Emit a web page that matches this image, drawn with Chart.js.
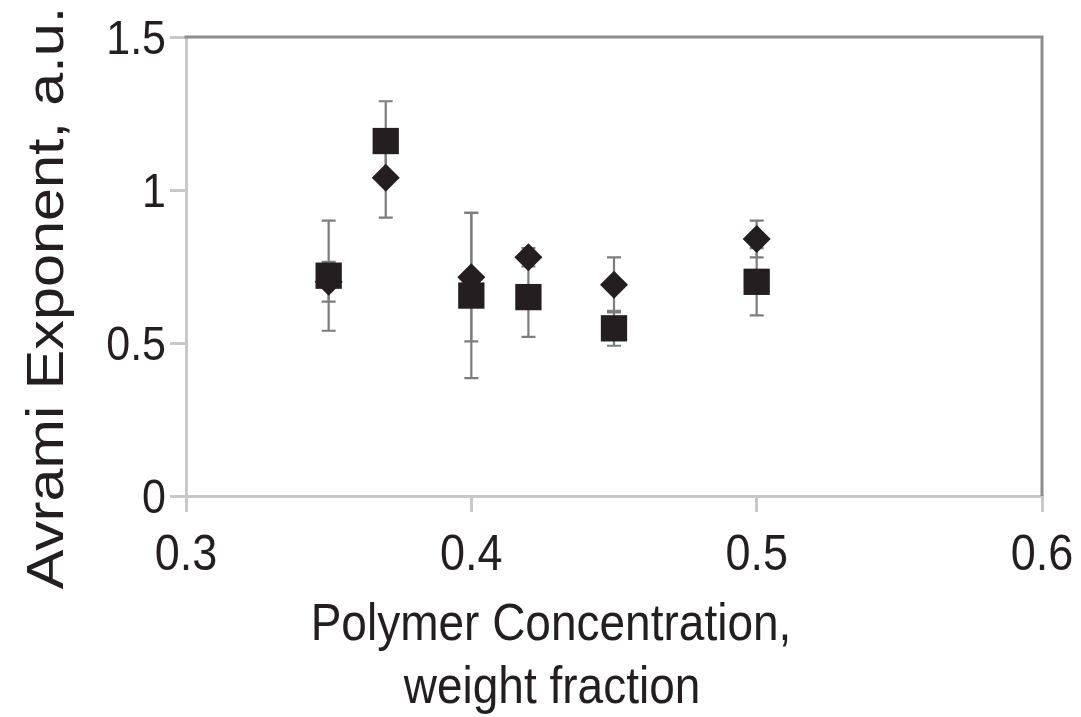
<!DOCTYPE html>
<html>
<head>
<meta charset="utf-8">
<script src="https://cdn.jsdelivr.net/npm/chart.js@4.4.1/dist/chart.umd.min.js"></script>
<style>
  html, body { margin: 0; padding: 0; background: #ffffff; }
  #wrap { width: 1081px; height: 717px; }
</style>
</head>
<body>
<div id="wrap"><canvas id="c" width="1081" height="717"></canvas></div>
<script>
// ---- Data ----
const concentrations = [0.35, 0.37, 0.40, 0.42, 0.45, 0.50];
const diamondValues  = [0.70, 1.04, 0.715, 0.78, 0.69, 0.84];
const diamondErrors  = [0.065, 0.13, 0.21, 0.03, 0.09, 0.06];
const squareValues   = [0.72, 1.16, 0.655, 0.65, 0.548, 0.70];
const squareErrors   = [0.18, 0.13, 0.27, 0.13, 0.057, 0.11];
const xTickValues = [0.3, 0.4, 0.5, 0.6];
const xTickLabels = ['0.3', '0.4', '0.5', '0.6'];
const yTickValues = [0, 0.5, 1, 1.5];
const yTickLabels = ['0', '0.5', '1', '1.5'];
const xTitleLines = ['Polymer Concentration,', 'weight fraction'];
const yTitle = 'Avrami Exponent, a.u.';

const FONT = '"Liberation Sans", Arial, sans-serif';
const MARK = '#231f20';
const TEXT = '#231f20';
const STRETCH = 1.13; // the reference text is slightly taller than wide

function toPoints(xs, ys) { return xs.map((x, i) => ({ x: x, y: ys[i] })); }

function stretchedText(ctx, str, x, y, align) {
  ctx.save();
  ctx.translate(x, y);
  ctx.scale(1, STRETCH);
  ctx.textAlign = align;
  ctx.textBaseline = 'alphabetic';
  ctx.fillText(str, 0, 0);
  ctx.restore();
}

const errorBarPlugin = {
  id: 'errorBars',
  beforeDatasetsDraw(chart) {
    const ctx = chart.ctx;
    const xs = chart.scales.x, ys = chart.scales.y;
    ctx.save();
    ctx.strokeStyle = '#7d7d7d';
    ctx.lineWidth = 2.2;
    chart.data.datasets.forEach(ds => {
      const errs = ds.errors;
      ds.data.forEach((p, i) => {
        const px = xs.getPixelForValue(p.x);
        const top = ys.getPixelForValue(p.y + errs[i]);
        const bot = ys.getPixelForValue(p.y - errs[i]);
        ctx.beginPath();
        ctx.moveTo(px, top); ctx.lineTo(px, bot);
        ctx.moveTo(px - 7, top); ctx.lineTo(px + 7, top);
        ctx.moveTo(px - 7, bot); ctx.lineTo(px + 7, bot);
        ctx.stroke();
      });
    });
    ctx.restore();
  }
};

const framePlugin = {
  id: 'frame',
  afterDraw(chart) {
    const ctx = chart.ctx, a = chart.chartArea;
    const xs = chart.scales.x, ys = chart.scales.y;
    ctx.save();
    // top and right border (darker grey)
    ctx.strokeStyle = '#8c8c8c';
    ctx.lineWidth = 3;
    ctx.beginPath();
    ctx.moveTo(a.left - 1.5, a.top); ctx.lineTo(a.right, a.top); ctx.lineTo(a.right, a.bottom);
    ctx.stroke();

    ctx.fillStyle = TEXT;
    // tick labels
    ctx.font = '45px ' + FONT;
    xTickValues.forEach((v, i) => {
      stretchedText(ctx, xTickLabels[i], xs.getPixelForValue(v), 570, 'center');
    });
    ctx.font = '43px ' + FONT;
    yTickValues.forEach((v, i) => {
      stretchedText(ctx, yTickLabels[i], 166, ys.getPixelForValue(v) + 17, 'right');
    });

    // axis titles
    ctx.font = '46px ' + FONT;
    stretchedText(ctx, xTitleLines[0], 551, 640, 'center');
    stretchedText(ctx, xTitleLines[1], 552, 703, 'center');

    ctx.translate(63, 298);
    ctx.rotate(-Math.PI / 2);
    ctx.scale(STRETCH, 1);
    ctx.font = '52.5px ' + FONT;
    ctx.textAlign = 'center';
    ctx.textBaseline = 'alphabetic';
    ctx.fillText(yTitle, 0, 0);
    ctx.restore();
  }
};

new Chart(document.getElementById('c'), {
  type: 'scatter',
  data: {
    datasets: [
      {
        label: 'square',
        data: toPoints(concentrations, squareValues),
        errors: squareErrors,
        pointStyle: 'rect',
        pointRadius: 18.6,
        pointHoverRadius: 18.6,
        backgroundColor: MARK,
        borderColor: MARK,
        borderWidth: 0,
        order: 0
      },
      {
        label: 'diamond',
        data: toPoints(concentrations, diamondValues),
        errors: diamondErrors,
        pointStyle: 'rectRot',
        pointRadius: 14,
        pointHoverRadius: 14,
        backgroundColor: MARK,
        borderColor: MARK,
        borderWidth: 0,
        order: 1
      }
    ]
  },
  options: {
    responsive: false,
    devicePixelRatio: 1,
    animation: false,
    layout: { padding: { left: 0, right: 39, top: 37, bottom: 0 } },
    plugins: { legend: { display: false }, tooltip: { enabled: false } },
    scales: {
      x: {
        type: 'linear',
        min: 0.3, max: 0.6,
        afterBuildTicks: s => { s.ticks = xTickValues.map(v => ({ value: v })); },
        afterFit: s => { s.height = 221; },
        ticks: { display: false, maxRotation: 0 },
        grid: { drawOnChartArea: false, drawTicks: true, tickLength: 16, color: '#c8c8c8', lineWidth: 3 },
        border: { display: true, color: '#c8c8c8', width: 3 }
      },
      y: {
        type: 'linear',
        min: 0, max: 1.5,
        afterBuildTicks: s => { s.ticks = yTickValues.map(v => ({ value: v })); },
        afterFit: s => { s.width = 186; },
        ticks: { display: false },
        grid: { drawOnChartArea: false, drawTicks: true, tickLength: 16, color: '#c8c8c8', lineWidth: 3 },
        border: { display: true, color: '#c8c8c8', width: 3 }
      }
    }
  },
  plugins: [errorBarPlugin, framePlugin]
});
</script>
</body>
</html>
